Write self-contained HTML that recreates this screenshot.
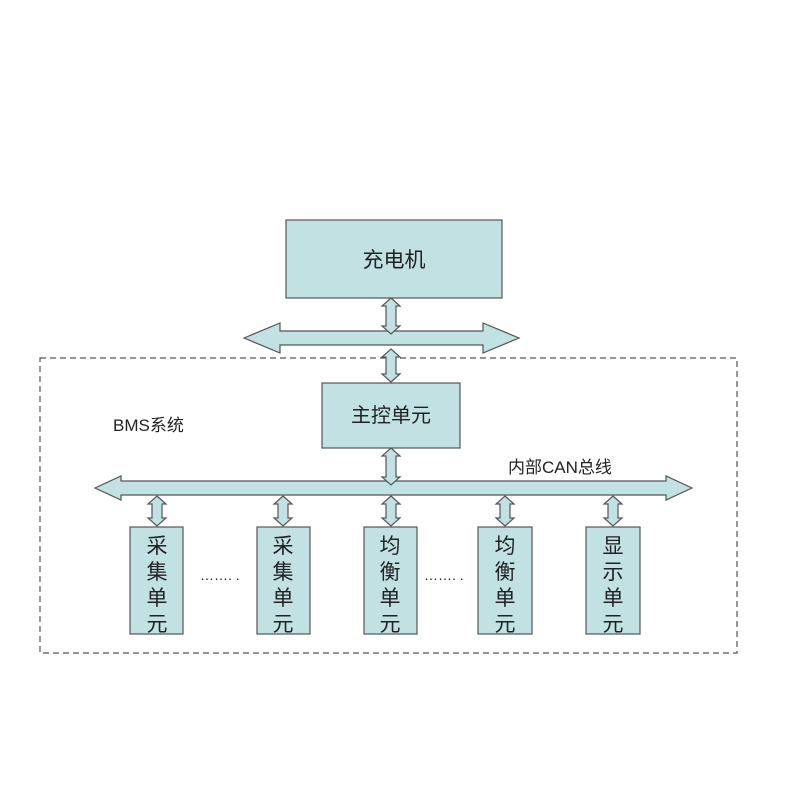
<!DOCTYPE html>
<html><head><meta charset="utf-8"><style>
body{margin:0;background:#fff}
svg{display:block}
text{font-family:"Liberation Sans","Noto Sans CJK SC",sans-serif;fill:#222}
</style></head><body>
<svg width="800" height="800" viewBox="0 0 800 800" xmlns="http://www.w3.org/2000/svg">
<g fill="#c2e1e3" stroke="#555" stroke-width="1.2">
<rect x="40" y="358" width="697" height="295" fill="none" stroke="#555" stroke-dasharray="6,4"/>
<rect x="286" y="220" width="216" height="78"/>
<rect x="322" y="383" width="138" height="65"/>
<path d="M244 338 L280 323 L280 331 L483 331 L483 323 L519 338 L483 353 L483 345 L280 345 L280 353 Z"/>
<path d="M95 488 L121 476 L121 481 L666 481 L666 476 L692 488 L666 500 L666 495 L121 495 L121 500 Z"/>
<path d="M391 298 L400 306 L396 306 L396 326 L400 326 L391 334 L382 326 L386 326 L386 306 L382 306 Z"/>
<path d="M391 349 L400 357 L396 357 L396 374 L400 374 L391 382 L382 374 L386 374 L386 357 L382 357 Z"/>
<path d="M391 448 L400 456 L396 456 L396 477 L400 477 L391 485 L382 477 L386 477 L386 456 L382 456 Z"/>
<path d="M157 496 L166 504 L162 504 L162 518 L166 518 L157 526 L148 518 L152 518 L152 504 L148 504 Z"/>
<path d="M283 496 L292 504 L288 504 L288 518 L292 518 L283 526 L274 518 L278 518 L278 504 L274 504 Z"/>
<path d="M391 496 L400 504 L396 504 L396 518 L400 518 L391 526 L382 518 L386 518 L386 504 L382 504 Z"/>
<path d="M505 496 L514 504 L510 504 L510 518 L514 518 L505 526 L496 518 L500 518 L500 504 L496 504 Z"/>
<path d="M613 496 L622 504 L618 504 L618 518 L622 518 L613 526 L604 518 L608 518 L608 504 L604 504 Z"/>
<rect x="130" y="527" width="53" height="107"/>
<rect x="257" y="527" width="53" height="107"/>
<rect x="364" y="527" width="53" height="107"/>
<rect x="478" y="527" width="54" height="107"/>
<rect x="586" y="527" width="54" height="107"/>
</g>
<text x="394" y="267" font-size="21" text-anchor="middle">充电机</text>
<text x="391" y="422" font-size="20" text-anchor="middle">主控单元</text>
<text x="113" y="431" font-size="17">BMS系统</text>
<text x="508" y="473" font-size="17">内部CAN总线</text>
<g font-size="21" text-anchor="middle">
<text x="157" y="553">采</text><text x="157" y="579">集</text><text x="157" y="605">单</text><text x="157" y="631">元</text>
<text x="283" y="553">采</text><text x="283" y="579">集</text><text x="283" y="605">单</text><text x="283" y="631">元</text>
<text x="390" y="553">均</text><text x="390" y="579">衡</text><text x="390" y="605">单</text><text x="390" y="631">元</text>
<text x="505" y="553">均</text><text x="505" y="579">衡</text><text x="505" y="605">单</text><text x="505" y="631">元</text>
<text x="613" y="553">显</text><text x="613" y="579">示</text><text x="613" y="605">单</text><text x="613" y="631">元</text>
</g>
<text x="200" y="580" font-size="14">……. .</text>
<text x="424" y="580" font-size="14">……. .</text>
</svg>
</body></html>
